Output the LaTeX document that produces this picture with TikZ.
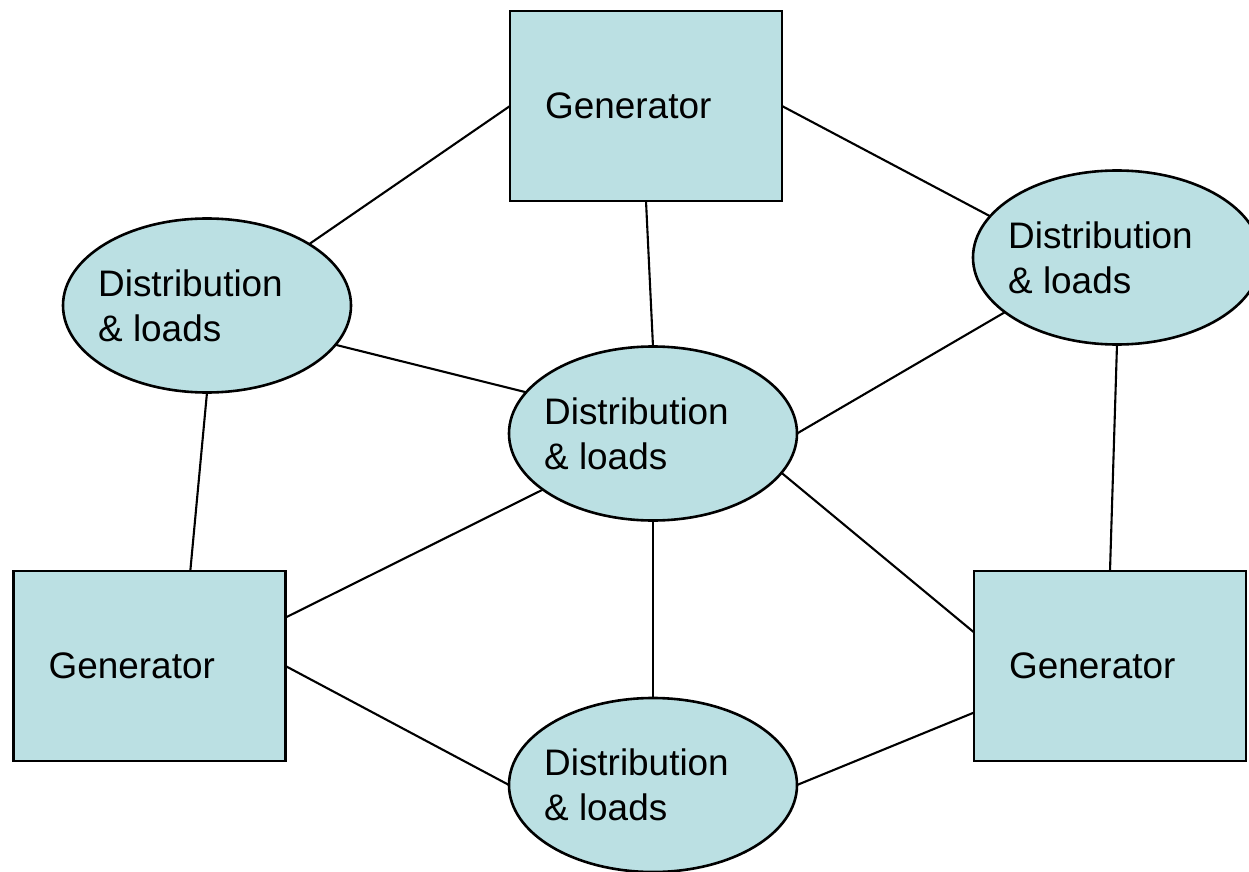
\documentclass[tikz,border=0pt]{standalone}
\usepackage{fontspec}
\setmainfont{Liberation Sans}
\usetikzlibrary{shapes.geometric,calc}
\definecolor{boxfill}{RGB}{187,224,227}
\begin{document}
\begin{tikzpicture}[x=0.5pt,y=-0.5pt,
  gen/.style={draw=black, fill=boxfill, line width=1.3pt, rectangle,
    minimum width=136pt, minimum height=95pt, inner sep=0pt, outer sep=0pt},
  load/.style={draw=black, fill=boxfill, line width=1.3pt, ellipse,
    minimum width=144pt, minimum height=87pt, inner sep=0pt, outer sep=0pt},
  lbl/.style={anchor=west, inner sep=0pt, align=left,
    font=\fontsize{18.45pt}{22.4pt}\selectfont},
  wire/.style={line width=1.05pt}
]
\useasboundingbox (0,0) rectangle (1249,872);
\clip (0,0) rectangle (1249,872);

% shapes
\node[gen]  (tg) at (646,106)   {};
\node[gen]  (lg) at (149.5,666) {};
\node[gen]  (rg) at (1110,666)  {};
\node[load] (le) at (207,305.5) {};
\node[load] (ce) at (653,433.5) {};
\node[load] (re) at (1117,257.5) {};
\node[load] (be) at (653,785)   {};

% connectors
\draw[wire] (tg.west) -- (le.31.7);
\draw[wire] (tg.east) -- (re.162.4);
\draw[wire] (tg.south) -- (ce.north);
\draw[wire] (le.-17.7) -- (ce.162.4);
\draw[wire] (le.south) -- ($(lg.north west)!0.65!(lg.north east)$);
\draw[wire] (re.206.8) -- (ce.east);
\draw[wire] (re.south) -- (rg.north);
\draw[wire] (ce.207) -- ($(lg.north east)!0.245!(lg.south east)$);
\draw[wire] (ce.-17.7) -- ($(rg.north west)!0.323!(rg.south west)$);
\draw[wire] (ce.south) -- (be.north);
\draw[wire] (lg.east) -- (be.west);
\draw[wire] ($(rg.north west)!0.745!(rg.south west)$) -- (be.east);

% labels
\node[lbl] (tgl) at ([xshift=17.4pt]tg.west) {Generator};
\node[lbl] (lgl) at ([xshift=17.4pt]lg.west) {Generator};
\node[lbl] (rgl) at ([xshift=17.4pt]rg.west) {Generator};
\node[lbl] (lel) at ([xshift=17.4pt]le.west) {Distribution\\\& loads};
\node[lbl] (cel) at ([xshift=17.4pt]ce.west) {Distribution\\\& loads};
\node[lbl] (rel) at ([xshift=17.4pt]re.west) {Distribution\\\& loads};
\node[lbl] (bel) at ([xshift=17.4pt]be.west) {Distribution\\\& loads};
\end{tikzpicture}
\end{document}
